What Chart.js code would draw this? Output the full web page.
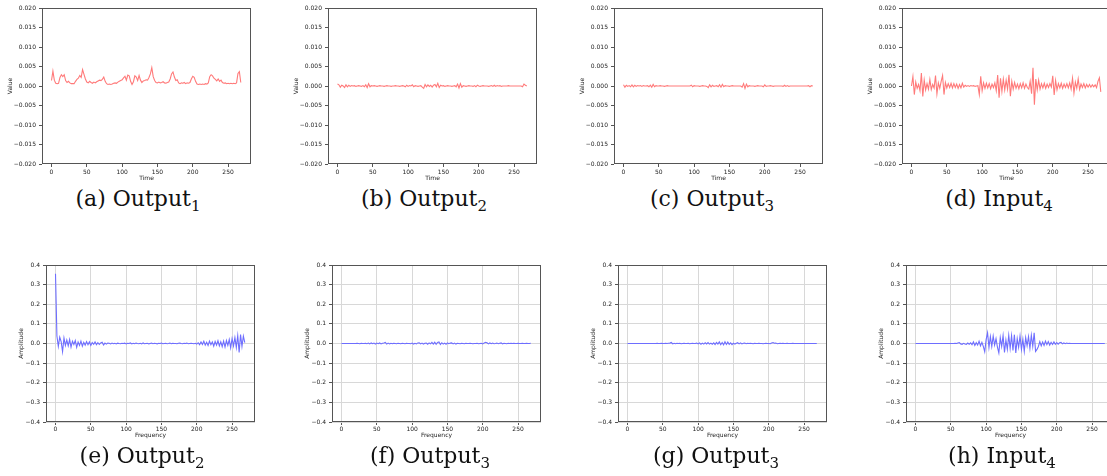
<!DOCTYPE html>
<html>
<head>
<meta charset="utf-8">
<script src="https://cdn.jsdelivr.net/npm/chart.js@4.4.0/dist/chart.umd.min.js"></script>
<style>
body { margin: 0; width: 1107px; height: 476px; overflow: hidden; background: #fff; position: relative; }
canvas { position: absolute; }
.cap { position: absolute; width: 240px; text-align: center; font-family: 'DejaVu Serif', serif; font-size: 22px; line-height: 26px; color: #111; white-space: nowrap; }
.cap sub { font-size: 15px; vertical-align: -5px; line-height: 0; }
</style>
</head>
<body>
<script>
// sample index (every 2nd time step / frequency bin)
var steps = [];
for (var i = 0; i < 135; i++) steps.push(i * 2);

var xTicks = [0, 50, 100, 150, 200, 250];
var valueTicks = [-0.02, -0.015, -0.01, -0.005, 0, 0.005, 0.01, 0.015, 0.02];
var ampTicks = [-0.4, -0.3, -0.2, -0.1, 0, 0.1, 0.2, 0.3, 0.4];

// time series, in units of 1e-4
var output1Time = [
14,38,15,7,6,7,22,29,24,29,
14,9,12,8,6,6,6,12,17,20,
27,22,42,30,18,10,8,12,9,7,
10,8,11,13,15,14,17,23,12,6,
4,5,4,5,7,8,7,10,12,14,
16,21,25,15,28,26,12,4,11,26,
23,14,27,15,9,13,14,16,15,22,
31,47,24,14,9,8,10,8,9,11,
8,7,9,10,18,31,36,23,14,16,
8,6,8,7,9,6,8,7,9,18,
25,22,12,5,4,5,4,5,4,6,
5,8,24,29,26,20,17,13,18,12,
15,9,7,8,6,7,6,7,6,7,
6,8,32,37,9];

var output2Time = [
5,3,-3,2,0,-4,3,-2,2,-1,
1,0,1,-1,0,1,0,-1,1,-2,
3,-4,6,-2,1,0,1,0,-1,0,
1,0,0,-1,0,1,0,0,-1,0,
0,1,0,0,-1,0,1,0,-2,2,
-1,1,0,3,-2,1,0,-1,0,1,
-3,-6,4,-2,3,-1,2,-3,2,4,
-2,7,-4,2,0,1,-1,0,1,0,
0,-1,0,1,-2,5,-5,6,-3,1,
0,-1,0,1,0,0,-1,1,-2,2,
0,-1,0,1,0,0,0,-1,0,1,
-1,2,-1,1,0,1,-1,0,0,0,
0,1,0,0,0,0,0,0,0,0,
0,-2,5,2,0];

var output3Time = [
3,-3,2,-1,1,-2,3,-2,2,-1,
1,0,1,-1,1,0,0,1,-2,2,
-3,4,-2,1,0,0,1,0,0,-1,
0,1,0,0,0,0,0,0,0,0,
0,0,0,0,0,0,0,0,2,-2,
1,0,0,0,-1,0,1,0,0,-1,
-4,3,-2,2,-1,0,1,-2,3,-3,
4,-2,1,0,0,-1,0,1,0,0,
0,0,0,0,-3,6,-6,5,-2,1,
0,0,0,-1,0,1,0,0,0,-2,
3,-1,0,0,1,0,-1,0,0,0,
0,0,0,-1,2,-1,1,-1,0,0,
0,0,0,0,0,0,0,0,0,0,
0,1,-2,1,0];

var input4Time = [
0,24,-22,10,-6,4,-12,33,-27,15,
-10,6,-8,17,-9,4,-5,27,-20,8,
-6,12,27,-22,9,-5,6,-4,7,-5,
6,-4,5,-6,4,-5,7,-3,2,-1,
1,-1,1,0,1,-1,0,1,-22,25,
-12,8,-6,7,-5,6,-7,5,-4,8,
-12,28,-30,20,-14,18,-10,15,-8,29,
-26,12,-8,9,-6,5,-7,6,-5,8,
-6,5,-4,-8,12,-20,47,-48,18,-10,
15,-8,6,-5,7,-6,5,-4,6,-3,
26,-23,14,-10,6,-5,7,-6,5,-4,
6,-5,8,-8,20,-18,10,-6,18,-9,
5,-4,6,-5,4,-3,4,-3,3,-2,
3,-4,12,21,-15];

// spectra, in units of 1e-3
var output2Freq = [
355,38,-15,32,10,-42,28,-10,18,-12,
20,-18,12,-5,15,-20,8,-10,12,-14,
6,-8,10,-6,8,-10,5,-4,8,-6,
4,-5,3,6,-8,2,-3,2,1,-2,
2,-1,1,-2,2,0,-1,1,0,2,
-2,1,0,3,-2,1,-1,2,0,-1,
1,-2,3,-1,0,1,-2,0,2,-1,
1,0,-2,1,0,2,-1,0,1,-1,
0,2,-1,1,0,0,-1,1,2,0,
-1,1,0,2,-1,0,1,0,-1,1,
-3,4,-6,8,-5,12,-8,6,-10,12,
-6,8,-14,10,-8,14,-12,9,-16,12,
-18,15,-10,20,-22,25,-12,30,-20,40,
-45,45,-15,38,5];

var output3FreqF = [
0,0,0,0,0,0,0,0,0,0,
0,1,0,-1,1,0,0,1,-1,2,
-2,3,-1,2,-3,2,-1,3,-2,1,
3,6,-3,2,-2,1,-1,1,0,-1,
1,0,-1,1,0,-1,1,0,0,-1,
2,-3,1,-2,3,4,-2,2,-3,1,
2,-4,3,-2,6,-3,7,-4,5,8,
-5,4,-3,2,-4,3,-1,2,3,-2,
2,-3,1,0,-1,1,0,-1,1,0,
0,1,0,-1,0,0,1,-1,0,1,
-2,3,6,4,-2,3,-1,2,-1,0,
2,-1,1,3,-2,1,0,-1,1,0,
1,0,1,0,0,1,0,0,1,0,
0,1,0,0,1];

var output3FreqG = [
0,0,0,0,0,0,0,0,0,0,
0,0,0,0,0,0,0,0,0,0,
0,1,0,0,1,0,0,1,0,1,
2,5,-2,1,-1,1,0,1,-1,0,
1,0,0,1,-1,0,1,0,0,2,
-2,3,-4,2,-3,4,-2,5,-3,2,
-4,3,-5,6,-3,8,-6,5,-7,9,
-5,7,-4,3,-6,2,-3,1,4,-2,
3,-2,1,2,-1,1,0,1,0,-1,
1,0,0,1,0,0,-1,0,1,0,
0,-1,3,5,1,2,-1,0,1,0,
1,0,0,1,0,0,0,1,0,0,
0,0,0,0,0,0,0,0,0,0,
0,0,0,0,0];

var input4Freq = [
0,0,0,0,0,0,0,0,0,0,
0,0,0,0,0,0,0,0,0,0,
0,0,0,0,0,0,0,0,1,0,
3,5,-2,-4,1,-3,-5,2,-4,3,
-6,8,-10,4,-8,12,-12,6,-15,-42,
20,55,-20,35,-15,38,-8,25,-18,-48,
30,-15,40,-45,18,-30,42,-25,40,-35,
45,-48,25,-20,38,-30,22,-40,30,-12,
35,-25,42,-15,55,-40,-30,-15,10,-12,
8,-10,12,-6,10,-8,6,-5,8,-4,
5,-3,4,6,-2,3,-1,2,0,1,
0,0,0,0,0,0,0,0,0,0,
0,0,0,0,0,0,0,0,0,0,
0,0,0,0,0];

var captionTags = ['(a)', '(b)', '(c)', '(d)', '(e)', '(f)', '(g)', '(h)'];
var captionNames = ['Output', 'Output', 'Output', 'Input', 'Output', 'Output', 'Output', 'Input'];
var captionSubs = ['1', '2', '3', '4', '2', '3', '3', '4'];

var series = [output1Time, output2Time, output3Time, input4Time,
              output2Freq, output3FreqF, output3FreqG, input4Freq];

// layout
var plotLefts = [42, 328, 614, 902, 46, 332, 618, 906];
var capCenters = [138, 424, 712, 999, 142, 430, 716, 1002];

var boxPlugin = {
  id: 'box',
  afterDraw: function(chart) {
    var a = chart.chartArea, ctx = chart.ctx;
    ctx.save();
    ctx.strokeStyle = '#555';
    ctx.lineWidth = 1;
    ctx.strokeRect(a.left + 0.5, a.top + 0.5, a.right - a.left - 1, a.bottom - a.top - 1);
    ctx.restore();
  }
};

function fmt(v, dec) {
  return (v < -1e-9 ? '\u2212' : '') + Math.abs(v).toFixed(dec);
}

function makePanel(k) {
  var lower = k >= 4;
  var plotTop = lower ? 265 : 8;
  var plotH = lower ? 157 : 156;
  var canvas = document.createElement('canvas');
  canvas.width = 42 + 209 + 8;
  canvas.height = 8 + plotH + 22;
  canvas.style.left = (plotLefts[k] - 42) + 'px';
  canvas.style.top = (plotTop - 8) + 'px';
  document.body.appendChild(canvas);

  var div = lower ? 1000 : 10000;
  var pts = series[k].map(function(v, i) { return {x: steps[i], y: v / div}; });
  var yTicks = lower ? ampTicks : valueTicks;
  var tickFont = {family: 'DejaVu Sans', size: 6};

  new Chart(canvas, {
    type: 'line',
    data: {
      datasets: [{
        data: pts,
        borderColor: lower ? '#6e6eff' : '#ff7a7a',
        borderWidth: 1.1,
        pointRadius: 0,
        tension: 0
      }]
    },
    options: {
      responsive: false,
      animation: false,
      events: [],
      layout: {padding: {top: 8, right: 8, left: 0, bottom: 0}},
      plugins: {legend: {display: false}, tooltip: {enabled: false}},
      scales: {
        x: {
          type: 'linear', min: -13.45, max: 282.45,
          afterBuildTicks: function(s) { s.ticks = xTicks.map(function(v) { return {value: v}; }); },
          afterFit: function(s) { s.height = 22; s.paddingLeft = 0; s.paddingRight = 0; },
          ticks: {font: tickFont, color: '#222', padding: lower ? 1 : 1.5, maxRotation: 0, autoSkip: false,
                  callback: function(v) { return String(v); }},
          grid: {drawOnChartArea: lower, color: '#d8d8d8', lineWidth: 1, tickLength: 3, tickColor: '#555'},
          border: {display: false},
          title: {display: true, text: lower ? 'Frequency' : 'Time', color: '#222',
                  font: {family: 'DejaVu Sans', size: 6}, padding: {top: 0, bottom: lower ? 4.5 : 3.5}}
        },
        y: {
          min: lower ? -0.4 : -0.02, max: lower ? 0.4 : 0.02,
          afterBuildTicks: function(s) { s.ticks = yTicks.map(function(v) { return {value: v}; }); },
          afterFit: function(s) { s.width = 42; s.paddingTop = 0; s.paddingBottom = 0; },
          ticks: {font: tickFont, color: '#222', padding: 3, autoSkip: false,
                  callback: function(v) { return fmt(v, lower ? 1 : 3); }},
          grid: {drawOnChartArea: lower, color: '#d8d8d8', lineWidth: 1, tickLength: 3, tickColor: '#555'},
          border: {display: false},
          title: {display: true, text: lower ? 'Amplitude' : 'Value', color: '#222',
                  font: {family: 'DejaVu Sans', size: 6}, padding: {top: lower ? 14 : 7, bottom: 0}}
        }
      }
    },
    plugins: [boxPlugin]
  });

  var cap = document.createElement('div');
  cap.className = 'cap';
  cap.style.left = (capCenters[k] - 120) + 'px';
  cap.style.top = (lower ? 443 : 186) + 'px';
  cap.innerHTML = captionTags[k] + ' ' + captionNames[k] + '<sub>' + captionSubs[k] + '</sub>';
  document.body.appendChild(cap);
}

for (var k = 0; k < 8; k++) makePanel(k);
</script>
</body>
</html>
